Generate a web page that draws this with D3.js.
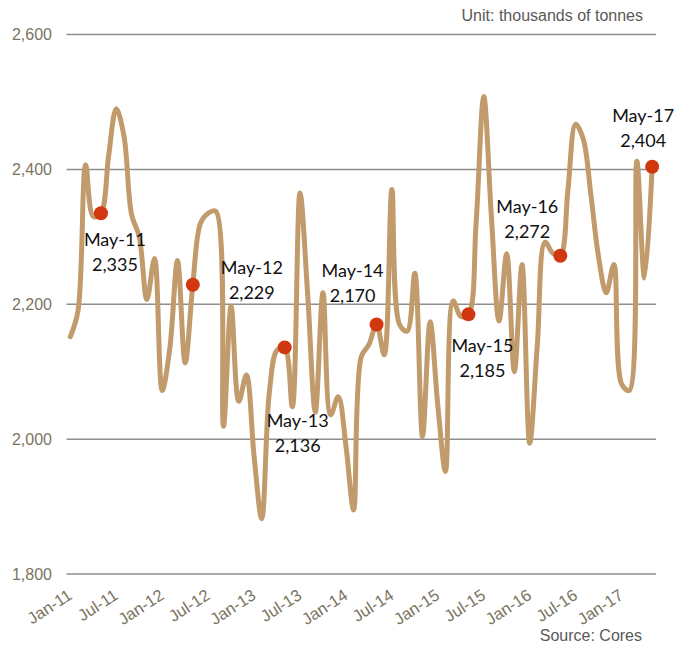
<!DOCTYPE html>
<html>
<head>
<meta charset="utf-8">
<title>Monthly consumption</title>
<script src="https://cdn.jsdelivr.net/npm/d3@7"></script>
<style>
    body { margin: 0; background: #ffffff; }
    svg { display: block; }
    .tick-label { font-family: "Liberation Sans", Arial, sans-serif; font-size: 16px; fill: #7b745f; }
    .x-label { font-size: 16.5px; }
    .note { font-family: "Liberation Sans", Arial, sans-serif; font-size: 16px; fill: #595959; }
    .data-label { font-family: Lato, "Open Sans", sans-serif; font-size: 18px; fill: #111111; }
</style>
</head>
<body>
<div id="chart"></div>
<script>
// monthly values, Jan-11 .. May-17 (thousands of tonnes)
var values = [
    2152, 2190, 2407, 2330, 2335, 2420, 2490, 2450, 2333, 2300, 2207, 2268,   // 2011
    2072, 2135, 2265, 2113, 2229, 2320, 2335, 2338, 2019, 2197, 2056, 2095,   // 2012
    1975, 1882, 2070, 2132, 2136, 2048, 2365, 2215, 2040, 2217, 2036, 2063,   // 2013
    1990, 1895, 2122, 2140, 2170, 2125, 2370, 2170, 2160, 2246, 2004, 2174,   // 2014
    2050, 1952, 2205, 2182, 2185, 2320, 2508, 2330, 2175, 2275, 2100, 2259,   // 2015
    1994, 2140, 2292, 2276, 2272, 2370, 2467, 2445, 2362, 2270, 2217, 2259,   // 2016
    2082, 2072, 2412, 2239, 2404                                               // 2017
];

// category names Jan-11 .. May-17
var months = d3.timeMonth.range(new Date(2011, 0, 1), new Date(2017, 5, 1));
var categories = months.map(d3.timeFormat("%b-%y"));

// x tick labels (every 6 months)
var xTicks = ["Jan-11", "Jul-11", "Jan-12", "Jul-12", "Jan-13", "Jul-13", "Jan-14",
              "Jul-14", "Jan-15", "Jul-15", "Jan-16", "Jul-16", "Jan-17"];
var yTicks = [1800, 2000, 2200, 2400, 2600];

// highlighted points
var highlights = ["May-11", "May-12", "May-13", "May-14", "May-15", "May-16", "May-17"];
// label offset from the dot: [dx, dy of first line]
var labelOffsets = [[14, 33], [59, -11], [13, 80], [-24, -47], [14, 38], [-33, -43], [-9, -45]];

var width = 675, height = 646;

var svg = d3.select("#chart").append("svg")
    .attr("width", width)
    .attr("height", height);

var x = d3.scalePoint()
    .domain(categories)
    .range([66.5, 656])
    .padding(0.5);

var y = d3.scaleLinear()
    .domain([1800, 2600])
    .range([574, 34.5]);

// gridlines
svg.append("g")
    .selectAll("line")
    .data(yTicks)
    .enter().append("line")
    .attr("x1", 66.5)
    .attr("x2", 656)
    .attr("y1", function(d) { return y(d); })
    .attr("y2", function(d) { return y(d); })
    .attr("stroke", "#8e8e8e")
    .attr("stroke-width", 1.5);

// y tick labels
svg.append("g")
    .selectAll("text")
    .data(yTicks)
    .enter().append("text")
    .attr("class", "tick-label")
    .attr("x", 52)
    .attr("y", function(d) { return y(d); })
    .attr("dy", "0.35em")
    .attr("text-anchor", "end")
    .text(d3.format(","));

// x tick labels, rotated
svg.append("g")
    .selectAll("text")
    .data(xTicks)
    .enter().append("text")
    .attr("class", "tick-label x-label")
    .attr("text-anchor", "end")
    .attr("transform", function(d) {
        return "translate(" + (x(d) + 3) + ",598) rotate(-33)";
    })
    .text(function(d) { return d; });

// the line
var line = d3.line()
    .x(function(d, i) { return x(categories[i]); })
    .y(function(d) { return y(d); })
    .curve(d3.curveCatmullRom.alpha(0.5));

svg.append("path")
    .datum(values)
    .attr("d", line)
    .attr("fill", "none")
    .attr("stroke", "#c19b6c")
    .attr("stroke-width", 5)
    .attr("stroke-linejoin", "round")
    .attr("stroke-linecap", "round");

// dots and labels
var fmt = d3.format(",");
var points = svg.append("g")
    .selectAll("g")
    .data(highlights)
    .enter().append("g");

points.append("circle")
    .attr("cx", function(d) { return x(d); })
    .attr("cy", function(d) { return y(values[categories.indexOf(d)]); })
    .attr("r", 7)
    .attr("fill", "#d2380f");

var labels = points.append("text")
    .attr("class", "data-label")
    .attr("text-anchor", "middle")
    .attr("x", function(d, i) { return x(d) + labelOffsets[i][0]; })
    .attr("y", function(d, i) { return y(values[categories.indexOf(d)]) + labelOffsets[i][1]; });

labels.append("tspan")
    .attr("x", function(d, i) { return x(d) + labelOffsets[i][0]; })
    .text(function(d) { return d; });

labels.append("tspan")
    .attr("x", function(d, i) { return x(d) + labelOffsets[i][0]; })
    .attr("dy", 25)
    .text(function(d) { return fmt(values[categories.indexOf(d)]); });

// notes
svg.append("text")
    .attr("class", "note")
    .attr("x", 643)
    .attr("y", 21)
    .attr("text-anchor", "end")
    .text("Unit: thousands of tonnes");

svg.append("text")
    .attr("class", "note")
    .attr("x", 642)
    .attr("y", 641)
    .attr("text-anchor", "end")
    .text("Source: Cores");
</script>
</body>
</html>
